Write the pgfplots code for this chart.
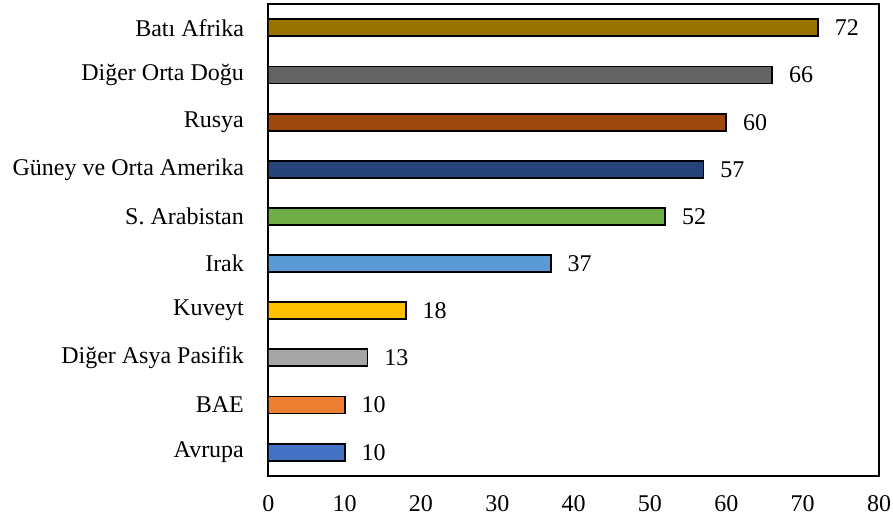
\documentclass[border=0pt]{standalone}
\usepackage{fontspec}
\setmainfont{Liberation Serif}
\usepackage{pgfplots}
\pgfplotsset{compat=1.18}

\definecolor{cBati}{HTML}{997300}
\definecolor{cOrtaDogu}{HTML}{636363}
\definecolor{cRusya}{HTML}{9E480E}
\definecolor{cGuney}{HTML}{264478}
\definecolor{cSArab}{HTML}{70AD47}
\definecolor{cIrak}{HTML}{5B9BD5}
\definecolor{cKuveyt}{HTML}{FFC000}
\definecolor{cAsya}{HTML}{A5A5A5}
\definecolor{cBAE}{HTML}{ED7D31}
\definecolor{cAvrupa}{HTML}{4472C4}

\begin{document}
\fontsize{12pt}{14pt}\selectfont
\begin{tikzpicture}
\begin{axis}[
  scale only axis,
  width=305.35pt, height=235.7pt,
  xbar, bar shift=0pt, bar width=8.5pt,
  xmin=0, xmax=80, xtick={0,10,...,80},
  ymin=-0.5, ymax=9.5, ytick={0,...,9},
  yticklabels={Avrupa, BAE, Diğer Asya Pasifik, Kuveyt, Irak, S. Arabistan,
               Güney ve Orta Amerika, Rusya, Diğer Orta Doğu, Batı Afrika},
  major tick length=0pt,
  axis line style={line width=0.8pt, black},
  /pgf/number format/assume math mode=true,
  tick label style={font=\fontsize{12pt}{14pt}\selectfont, inner sep=0pt},
  xticklabel style={anchor=north, yshift=-9.6pt},
  yticklabel style={anchor=east, xshift=-12pt},
  every axis plot/.append style={draw=black, line width=0.9pt},
  nodes near coords,
  nodes near coords style={anchor=west, inner sep=0pt, xshift=8pt,
    font=\fontsize{12pt}{14pt}\selectfont, text=black},
  point meta=x,
]
\addplot[fill=cAvrupa]   coordinates {(10,0)};
\addplot[fill=cBAE]      coordinates {(10,1)};
\addplot[fill=cAsya]     coordinates {(13,2)};
\addplot[fill=cKuveyt]   coordinates {(18,3)};
\addplot[fill=cIrak]     coordinates {(37,4)};
\addplot[fill=cSArab]    coordinates {(52,5)};
\addplot[fill=cGuney]    coordinates {(57,6)};
\addplot[fill=cRusya]    coordinates {(60,7)};
\addplot[fill=cOrtaDogu] coordinates {(66,8)};
\addplot[fill=cBati]     coordinates {(72,9)};
\end{axis}
\pgfresetboundingbox
\path[use as bounding box] (-134.15pt,-22.65pt) rectangle (312.35pt,237.85pt);
\end{tikzpicture}
\end{document}
